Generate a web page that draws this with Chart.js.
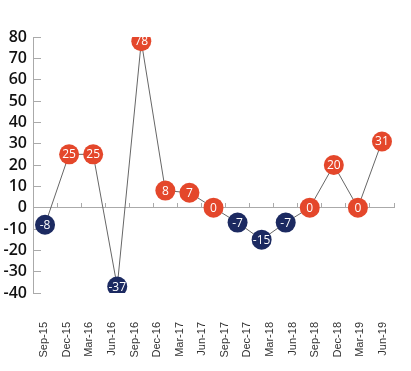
<!DOCTYPE html>
<html>
<head>
<meta charset="utf-8">
<script src="https://cdn.jsdelivr.net/npm/chart.js@4.4.1/dist/chart.umd.min.js"></script>
<style>
  html, body { margin: 0; padding: 0; background: #fff; }
</style>
</head>
<body>
<canvas id="chart" width="411" height="371"></canvas>
<script>
// Quarters for the plotted points, and the labels printed under the chart
const quarters = ['Sep-15', 'Dec-15', 'Mar-16', 'Jun-16', 'Sep-16', 'Dec-16', 'Mar-17', 'Jun-17',
    'Sep-17', 'Dec-17', 'Mar-18', 'Jun-18', 'Sep-18', 'Dec-18', 'Mar-19'];
const tickLabels = ['Sep-15', 'Dec-15', 'Mar-16', 'Jun-16', 'Sep-16', 'Dec-16', 'Mar-17', 'Jun-17',
    'Sep-17', 'Dec-17', 'Mar-18', 'Jun-18', 'Sep-18', 'Dec-18', 'Mar-19', 'Jun-19'];
const changes = [-8, 25, 25, -37, 78, 8, 7, 0, -7, -15, -7, 0, 20, 0, 31];

const RED = '#e4472b';
const NAVY = '#1c2a61';

// Write each value inside its circle
const pointLabels = {
    id: 'pointLabels',
    afterDatasetsDraw(chart) {
        const ctx = chart.ctx;
        const meta = chart.getDatasetMeta(0);
        ctx.save();
        ctx.font = '12px "Open Sans"';
        ctx.fillStyle = '#fff';
        ctx.textAlign = 'center';
        ctx.textBaseline = 'middle';
        meta.data.forEach((pt, i) => ctx.fillText(String(changes[i]), pt.x, pt.y + 0.5));
        ctx.restore();
    }
};

new Chart(document.getElementById('chart'), {
    type: 'line',
    data: {
        labels: quarters,
        datasets: [{
            data: changes,
            borderColor: '#666',
            borderWidth: 1,
            pointRadius: 10,
            pointHoverRadius: 10,
            pointBorderWidth: 0,
            pointBackgroundColor: changes.map(v => v < 0 ? NAVY : RED),
            tension: 0
        }]
    },
    options: {
        responsive: false,
        animation: false,
        devicePixelRatio: 1,
        layout: { padding: { top: 37, right: 17, left: 0, bottom: 12 } },
        plugins: { legend: { display: false }, tooltip: { enabled: false } },
        scales: {
            x: {
                type: 'category',
                position: { y: 0 },
                offset: true,
                grid: { offset: true, drawOnChartArea: false, tickLength: -5, color: '#aaa' },
                border: { color: '#aaa' },
                ticks: { display: false }
            },
            y: {
                min: -40,
                max: 80,
                afterFit: s => { s.width = 33; },
                ticks: { stepSize: 10, autoSkip: false, padding: 14, color: '#111', font: { family: '"Open Sans"', size: 16, weight: 600 } },
                grid: { drawOnChartArea: false, tickLength: -8, color: '#aaa' },
                border: { color: '#aaa' }
            },
            x2: {
                type: 'category',
                labels: tickLabels,
                position: 'bottom',
                offset: true,
                afterFit: s => { s.height = 66; s.paddingLeft = 0; s.paddingRight = 0; },
                grid: { display: false },
                border: { display: false },
                ticks: { minRotation: 90, maxRotation: 90, autoSkip: false, padding: 21, color: '#333', font: { family: '"Liberation Sans"', size: 11 } }
            }
        }
    },
    plugins: [pointLabels]
});
</script>
</body>
</html>
